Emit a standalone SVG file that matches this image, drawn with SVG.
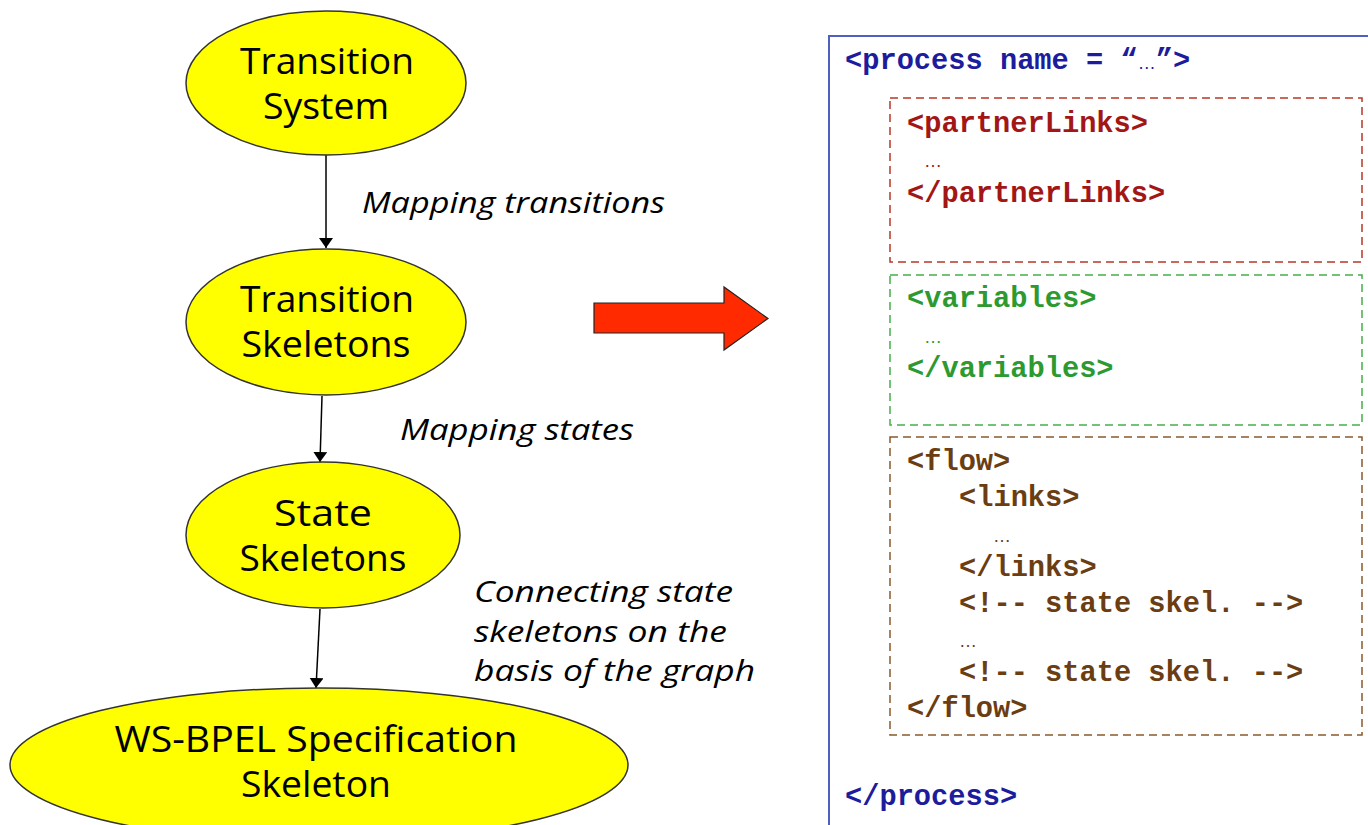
<svg xmlns="http://www.w3.org/2000/svg" width="1368" height="825" viewBox="0 0 1368 825">
  <style>
    .node ellipse { fill: #ffff00; stroke: #333333; stroke-width: 1.5; }
    .node text { font-family: "Open Sans", "DejaVu Sans", sans-serif; font-size: 36px; fill: #000000; text-anchor: middle; }
    .lbl { font-family: "Open Sans", "DejaVu Sans", sans-serif; font-style: italic; font-size: 29px; fill: #000000; }
    .edge { stroke: #000000; stroke-width: 1.5; fill: none; marker-end: url(#tip); }
    .code { font-family: "Liberation Mono", "Courier New", monospace; font-weight: bold; font-size: 28.7px; }
    .ell { font-family: "Liberation Sans", Arial, sans-serif; font-weight: normal; font-size: 18px; }
    .blue { fill: #1c1c9c; }
    .red { fill: #a31616; }
    .green { fill: #2c9a30; }
    .brown { fill: #6b3d12; }
    .dash { fill: none; stroke-width: 1.5; stroke-dasharray: 8 5; }
  </style>
  <defs>
    <marker id="tip" viewBox="0 0 10 14" refX="10" refY="7" markerWidth="10" markerHeight="14" markerUnits="userSpaceOnUse" orient="auto">
      <path d="M0,0 L10,7 L0,14 Z" fill="#000000"/>
    </marker>
  </defs>
  <rect width="1368" height="825" fill="#ffffff"/>

  <!-- derivation chain -->
  <g id="connectors">
    <line class="edge" x1="326" y1="155" x2="326" y2="248"/>
    <line class="edge" x1="322" y1="396" x2="320" y2="462"/>
    <line class="edge" x1="320" y1="609" x2="316" y2="688"/>
  </g>

  <g id="transition-system" class="node">
    <ellipse cx="326" cy="83" rx="140" ry="72"/>
    <text x="327" y="74" textLength="174" lengthAdjust="spacingAndGlyphs">Transition</text>
    <text x="326" y="119" textLength="126" lengthAdjust="spacingAndGlyphs">System</text>
  </g>
  <g id="transition-skeletons" class="node">
    <ellipse cx="326" cy="322" rx="140" ry="73"/>
    <text x="327" y="312" textLength="174" lengthAdjust="spacingAndGlyphs">Transition</text>
    <text x="326" y="357" textLength="169" lengthAdjust="spacingAndGlyphs">Skeletons</text>
  </g>
  <g id="state-skeletons" class="node">
    <ellipse cx="323" cy="535" rx="137" ry="73"/>
    <text x="323" y="526" textLength="98" lengthAdjust="spacingAndGlyphs">State</text>
    <text x="323" y="571" textLength="167" lengthAdjust="spacingAndGlyphs">Skeletons</text>
  </g>
  <g id="bpel-skeleton" class="node">
    <ellipse cx="319" cy="765" rx="309" ry="77"/>
    <text x="316" y="752" textLength="403" lengthAdjust="spacingAndGlyphs">WS-BPEL Specification</text>
    <text x="316" y="797" textLength="150" lengthAdjust="spacingAndGlyphs">Skeleton</text>
  </g>

  <g id="edge-labels">
    <text class="lbl" x="362" y="213" textLength="303" lengthAdjust="spacingAndGlyphs">Mapping transitions</text>
    <text class="lbl" x="400" y="440" textLength="234" lengthAdjust="spacingAndGlyphs">Mapping states</text>
    <text class="lbl" x="474" y="602" textLength="259" lengthAdjust="spacingAndGlyphs">Connecting state</text>
    <text class="lbl" x="474" y="642" textLength="253" lengthAdjust="spacingAndGlyphs">skeletons on the</text>
    <text class="lbl" x="474" y="681" textLength="281" lengthAdjust="spacingAndGlyphs">basis of the graph</text>
  </g>

  <!-- transformation arrow -->
  <g id="big-arrow">
    <path d="M594,303 L724,303 L724,287 L768,318.5 L724,350 L724,333 L594,333 Z" fill="#ff2a00" stroke="#222222" stroke-width="1.2" stroke-linejoin="miter"/>
  </g>

  <!-- generated process document -->
  <g id="process-doc">
    <rect x="829" y="36" width="600" height="900" fill="none" stroke="#5060c0" stroke-width="2"/>
    <text class="code blue" x="845" y="69">&lt;process name = “<tspan class="ell">…</tspan>”&gt;</text>
    <text class="code blue" x="845" y="805">&lt;/process&gt;</text>
  </g>

  <g id="partner-links">
    <rect class="dash" x="890" y="98" width="472" height="164" stroke="#b8392a"/>
    <text class="code red" x="907" y="132">&lt;partnerLinks&gt;</text>
    <text class="ell red" x="924" y="167">…</text>
    <text class="code red" x="907" y="202">&lt;/partnerLinks&gt;</text>
  </g>

  <g id="variables">
    <rect class="dash" x="890" y="275" width="472" height="150" stroke="#44b048"/>
    <text class="code green" x="907" y="307">&lt;variables&gt;</text>
    <text class="ell green" x="924" y="343">…</text>
    <text class="code green" x="907" y="377">&lt;/variables&gt;</text>
  </g>

  <g id="flow">
    <rect class="dash" x="890" y="437" width="472" height="298" stroke="#8a5a2c"/>
    <text class="code brown" x="907" y="470">&lt;flow&gt;</text>
    <text class="code brown" x="959" y="506">&lt;links&gt;</text>
    <text class="ell brown" x="993" y="542">…</text>
    <text class="code brown" x="959" y="576">&lt;/links&gt;</text>
    <text class="code brown" x="959" y="612">&lt;!-- state skel. --&gt;</text>
    <text class="ell brown" x="959" y="647">…</text>
    <text class="code brown" x="959" y="681">&lt;!-- state skel. --&gt;</text>
    <text class="code brown" x="907" y="717">&lt;/flow&gt;</text>
  </g>
</svg>
